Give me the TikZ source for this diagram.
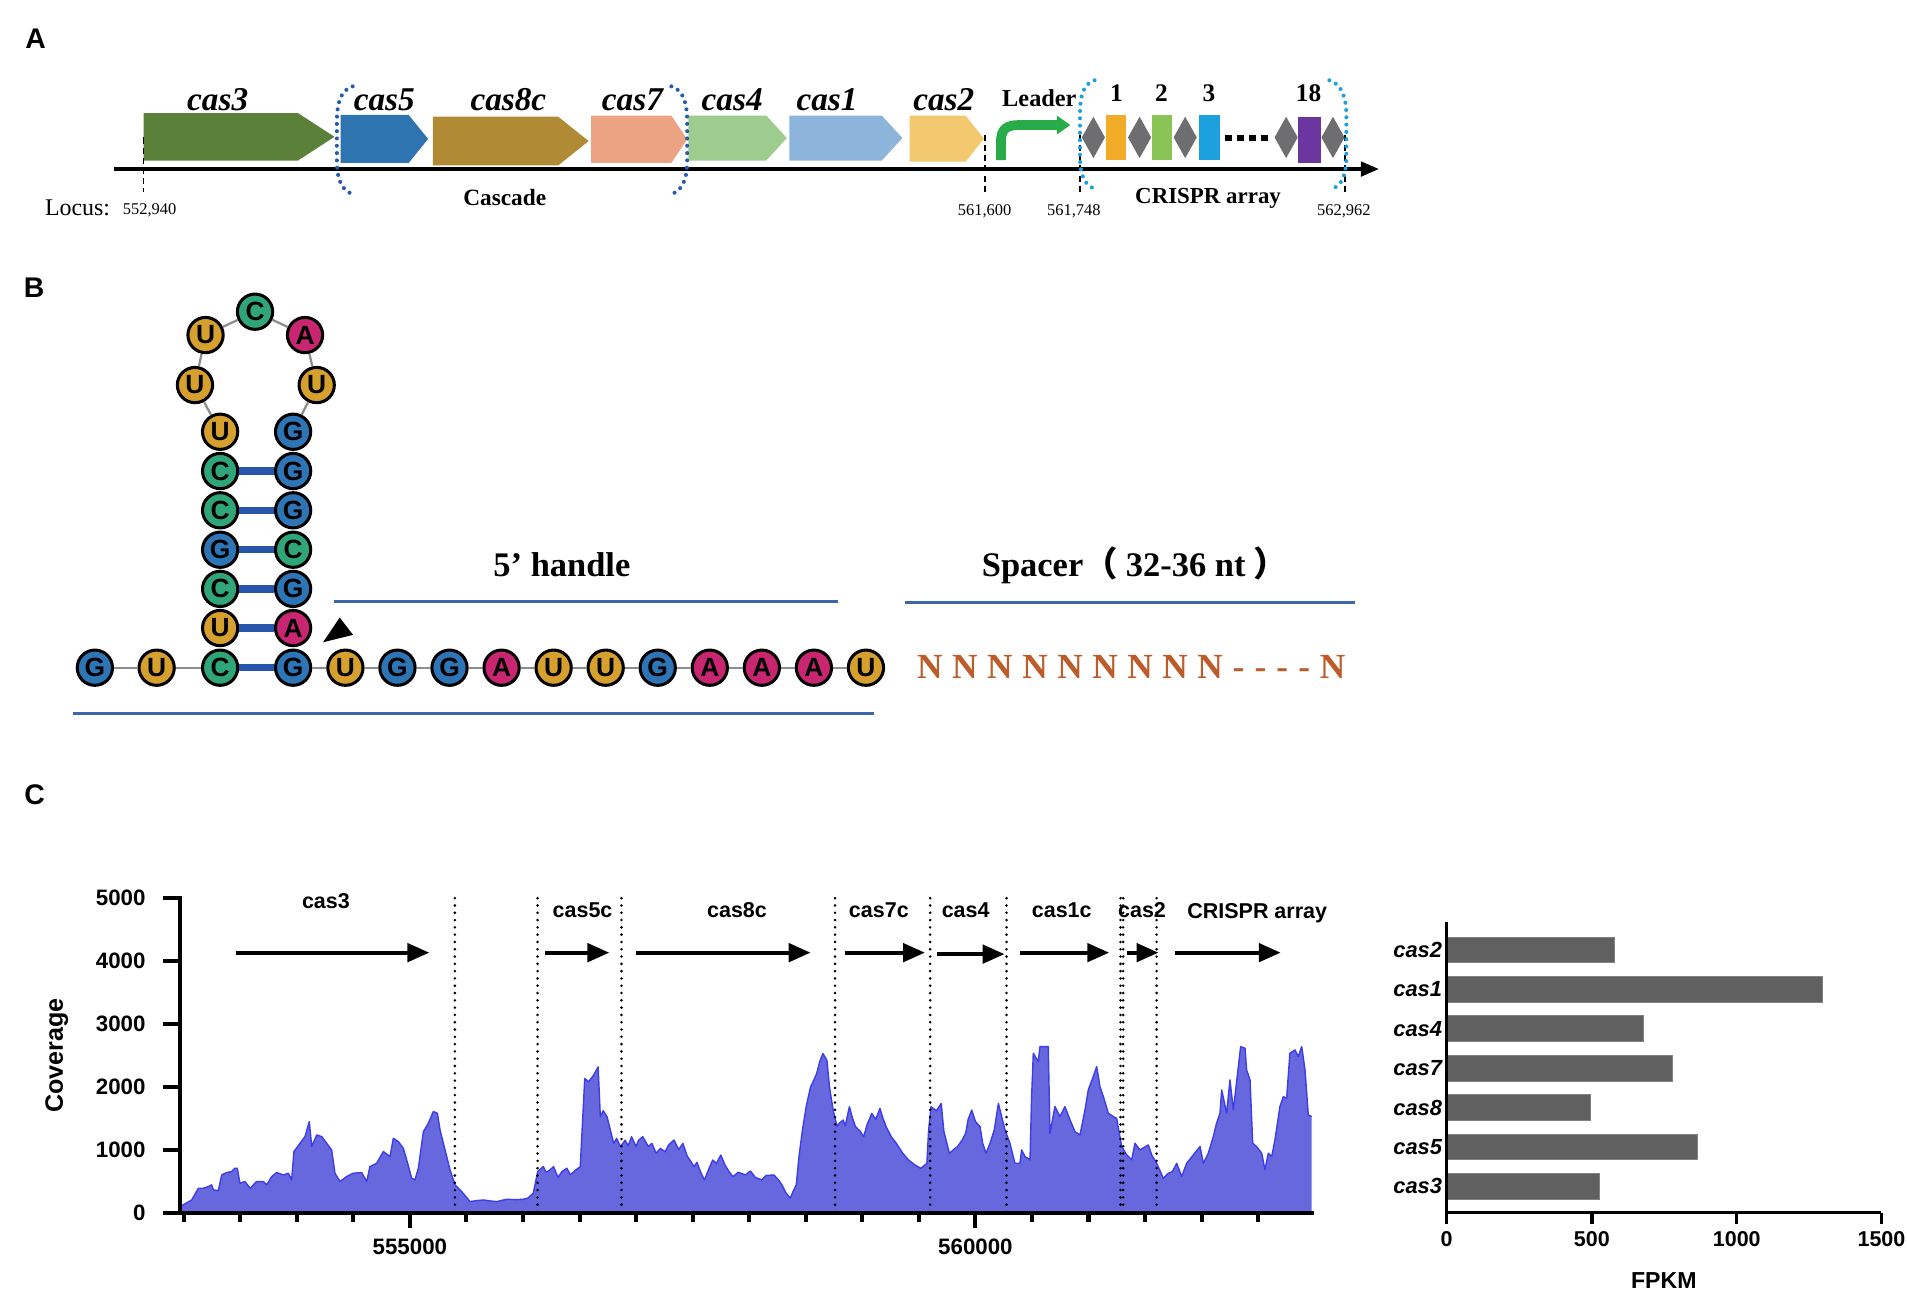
\documentclass[tikz,border=0pt]{standalone}
\usepackage{fontspec}
\setmainfont{Liberation Serif}
\setsansfont{Liberation Sans}
\newfontfamily\cjkfont{Noto Sans CJK SC}
\usetikzlibrary{arrows.meta}
\newcommand{\fsz}[1]{\fontsize{#1}{#1}\selectfont}
\definecolor{gcasthree}{RGB}{91,128,58}
\definecolor{gcasfive}{RGB}{46,116,176}
\definecolor{gcaseight}{RGB}{176,138,52}
\definecolor{gcasseven}{RGB}{236,163,132}
\definecolor{gcasfour}{RGB}{158,204,143}
\definecolor{gcasone}{RGB}{141,180,219}
\definecolor{gcastwo}{RGB}{243,201,112}
\definecolor{leaderg}{RGB}{40,172,74}
\definecolor{diamg}{RGB}{110,110,112}
\definecolor{spone}{RGB}{243,172,40}
\definecolor{sptwo}{RGB}{139,196,86}
\definecolor{spthree}{RGB}{28,160,222}
\definecolor{speighteen}{RGB}{108,54,160}
\definecolor{brackdark}{RGB}{40,92,170}
\definecolor{bracklight}{RGB}{30,160,220}
\definecolor{ntG}{RGB}{46,117,182}
\definecolor{ntU}{RGB}{214,160,46}
\definecolor{ntC}{RGB}{48,166,120}
\definecolor{ntA}{RGB}{200,38,112}
\definecolor{pairblue}{RGB}{40,86,170}
\definecolor{linecol}{RGB}{62,102,170}
\definecolor{ncol}{RGB}{188,92,42}
\definecolor{covfill}{RGB}{104,104,222}
\definecolor{covedge}{RGB}{62,62,232}
\definecolor{barfill}{RGB}{96,96,96}
\newcommand{\genearrow}[6]{\fill[#6] (#1,#4) -- (#2,#4) -- (#3,{(#4+#5)/2}) -- (#2,#5) -- (#1,#5) -- cycle;}
\newcommand{\diam}[1]{\fill[diamg] ({#1-9.5},113) -- (#1,96) -- ({#1+9.5},113) -- (#1,130) -- cycle;}
\newcommand{\nuc}[4]{\node[nuc, fill=nt#4] (#1) at (#2,#3) {#4};}
\newcommand{\Nb}{\makebox[17.28pt]{N}}
\newcommand{\Db}{\makebox[10.8pt]{-}}
\newcommand{\covpts}{(148,94) (157.6,200) (163.1,386) (167.2,386) (171.3,413) (174,440) (175.4,360) (179.5,350) (182.3,598) (186.4,636) (190.5,652) (193.2,705) (195.1,705) (197.3,466) (201.4,493) (205.6,386) (211,493) (216.5,493) (219.3,440) (223.4,572) (227.5,636) (233,598) (237.1,625) (239.8,519) (241.7,970) (246.7,1102) (250.8,1208) (254.3,1447) (256.3,1049) (260.4,1234) (264.5,1208) (268.6,1102) (272.7,996) (275.4,625) (279.6,493) (285,572) (290.5,625) (297.4,636) (301.5,493) (304.2,731) (309.7,784) (315.2,970) (320.7,890) (323.4,1181) (327.5,1128) (331.6,1022) (334.4,837) (338.5,546) (341.2,519) (344,705) (348.1,1287) (352.2,1420) (356.3,1606) (359.6,1579) (361.8,1314) (365.9,996) (370,678) (374.1,440) (379.6,334) (386.5,174) (392,190) (397.4,200) (403,185) (408.4,174) (416.6,211) (424,205) (430.3,211) (434,230) (438.5,307) (442.1,652) (446.7,731) (449,640) (452.2,678) (455.1,730) (458.8,560) (462,650) (466.1,704) (469,600) (473.4,677) (477.1,730) (480.8,2132) (484,2080) (488.1,2185) (491.8,2317) (493.6,1524) (496,1620) (499.1,1524) (502,1300) (504.6,1100) (507,1180) (510.1,1048) (514,1150) (516.5,1060) (519.3,1206) (523,1048) (525,1150) (528.5,1206) (533,1050) (536,1100) (539.5,942) (543,1020) (546.8,968) (550,1080) (554.2,1153) (558,1000) (561.5,1100) (565,900) (570.8,730) (573,800) (575.9,651) (579.2,519) (583,700) (586,836) (589,780) (592.7,915) (596,760) (599.4,651) (602.7,571) (607,640) (612.8,598) (617,660) (621,560) (626.2,519) (630,590) (636.3,598) (640,520) (643,439) (646,320) (649.7,228) (652,330) (654.7,439) (657,900) (659.8,1312) (663,1700) (666.5,2000) (669,2100) (671.5,2212) (674,2400) (676.6,2529) (679.9,2423) (682,2000) (685,1630) (688.3,1365) (690,1420) (693.3,1471) (695,1380) (698.4,1683) (701,1500) (703.4,1365) (707,1300) (710.1,1206) (713,1400) (716.8,1577) (720,1480) (723.5,1656) (726,1500) (728.6,1365) (733,1200) (737,1100) (742,950) (747,836) (752,760) (757.1,704) (762.1,783) (763.5,1300) (765.5,1683) (770,1620) (773.9,1735) (776,1300) (780.6,942) (784,1000) (787.3,1048) (791,1150) (794,1259) (796,1480) (799,1630) (802,1450) (805.8,1365) (808,1100) (810.8,942) (814,1100) (817.5,1312) (820.9,1735) (822.2,1632) (826.3,1314) (830.4,1102) (834.5,784) (838.6,784) (840,996) (842.8,890) (846.9,837) (848.2,1817) (849.6,2533) (853.7,2400) (855.1,2639) (861.9,2639) (863.3,1261) (867.4,1685) (871.5,1526) (875.6,1685) (879.8,1473) (883.9,1287) (888,1234) (892.1,1632) (894.8,1950) (898.9,2162) (901.7,2321) (904.4,2003) (907.2,1844) (911.3,1579) (915.4,1526) (918.1,1499) (922.3,1049) (926.4,917) (930.5,837) (933.2,1102) (937.3,996) (944.2,1075) (946.9,917) (951,784) (956.5,546) (960.6,625) (964,650) (967.5,784) (971.6,572) (975.7,784) (981.2,917) (986.7,1049) (989.4,784) (993.5,943) (997.6,1208) (1000,1400) (1003.1,1579) (1004.5,1950) (1008.6,1579) (1011.3,2109) (1014.1,1632) (1016.8,2083) (1020.1,2639) (1023.7,2612) (1025,2268) (1027.8,2109) (1030,1102) (1033.2,1049) (1037.4,943) (1040.1,678) (1042.8,943) (1045.6,890) (1048.3,1155) (1052.4,1685) (1055.2,1844) (1057.9,1817) (1060.6,2533) (1064.8,2586) (1067.5,2480) (1070.3,2639) (1073,2268) (1075.7,1553) (1078.5,1526)}
\begin{document}
\begin{tikzpicture}[x=0.6pt,y=-0.6pt,
  panellab/.style={font=\sffamily\bfseries\fsz{14pt}, inner sep=0},
  genelab/.style={font=\bfseries\itshape\fsz{16.4pt}, anchor=base, inner sep=0},
  serifbold/.style={font=\bfseries\fsz{12pt}, anchor=base, inner sep=0},
  locnum/.style={font=\fsz{8.1pt}, anchor=base, inner sep=0},
  locusline/.style={line width=0.9pt, dash pattern=on 3pt off 2pt},
  brackd/.style={brackdark, line width=2pt, dash pattern=on 0pt off 3.6pt, line cap=round},
  brackl/.style={bracklight, line width=2pt, dash pattern=on 0pt off 3.6pt, line cap=round},
  nuc/.style={circle, draw=black, line width=1.5pt, minimum size=17.4pt, inner sep=0, font=\sffamily\bfseries\fsz{13pt}},
  bbone/.style={draw={rgb,255:red,140;green,140;blue,140}, line width=1.1pt},
  pairbar/.style={draw=pairblue, line width=3.6pt},
  bline/.style={draw=linecol, line width=1.7pt},
  caxis/.style={line width=2pt, line cap=rect},
  cnum/.style={font=\sffamily\bfseries\fsz{11pt}, inner sep=0},
  cgene/.style={font=\sffamily\bfseries\fsz{10.6pt}, anchor=base, inner sep=0},
  cdot/.style={line width=1.4pt, dash pattern=on 0pt off 3.6pt, line cap=round},
  carrow/.style={line width=2pt, -{Triangle[length=10.8pt,width=9pt]}},
  barlab/.style={font=\sffamily\bfseries\itshape\fsz{10.8pt}, anchor=east, inner sep=0}
]
\useasboundingbox (0,0) rectangle (1568,1063);
\fill[white] (0,0) rectangle (1568,1063);

% ---------------- Panel A ----------------
\node[panellab] (labA) at (29.3,31.5) {A};
\genearrow{118}{245}{275}{93}{132}{gcasthree}
\genearrow{280}{336}{352}{94.5}{134}{gcasfive}
\genearrow{356}{459}{484}{96}{136}{gcaseight}
\genearrow{486}{552}{565}{95}{134}{gcasseven}
\genearrow{566}{630}{647}{95}{132}{gcasfour}
\genearrow{649}{725}{742}{95}{132}{gcasone}
\genearrow{748}{794}{809}{95}{133}{gcastwo}
\coordinate (axA0) at (94,139);
\coordinate (axA1) at (1134,139);
\draw[line width=2pt, -{Triangle[length=9pt,width=7pt]}] (axA0) -- (axA1);
\draw[locusline] (118,113) -- (118,158);
\draw[locusline] (810,111) -- (810,158);
\draw[locusline] (888,111) -- (888,158);
\draw[locusline] (1106,111) -- (1106,158);
% leader arrow
\draw[leaderg, line width=4.8pt] (823,131.6) -- (823,116) .. controls (823,106) and (828,102.8) .. (838,102.8) -- (870,102.8);
\fill[leaderg] (869,95) -- (880,102.8) -- (869,110.6) -- cycle;
% CRISPR array
\diam{899}
\fill[spone] (909,94.6) rectangle (926,131.6);
\diam{937}
\fill[sptwo] (947,94.6) rectangle (964,131.6);
\diam{974.5}
\fill[spthree] (986,94.6) rectangle (1003,131.6);
\draw[line width=3pt, dash pattern=on 3.4pt off 2.6pt] (1007,113.6) -- (1044,113.6);
\diam{1057.5}
\fill[speighteen] (1067,96) rectangle (1086,134);
\diam{1096}
% brackets
\draw[brackd] (290,71) .. controls (280,74) and (277,85) .. (277,100) -- (277,132) .. controls (277,148) and (281,157) .. (291,160);
\draw[brackd] (552,71) .. controls (562,74) and (565,85) .. (565,100) -- (565,132) .. controls (565,148) and (561,157) .. (551,160);
\draw[brackl] (900,66) .. controls (890,69) and (888,80) .. (888,95) -- (888,128) .. controls (888,145) and (892,153) .. (902,156);
\draw[brackl] (1093,66) .. controls (1103,69) and (1107,80) .. (1107,95) -- (1107,128) .. controls (1107,145) and (1103,153) .. (1094,156);
% labels
\node[genelab] (tcas3) at (179,91) {cas3};
\node[genelab] (tcas5) at (316,91) {cas5};
\node[genelab] (tcas8c) at (418,91) {cas8c};
\node[genelab] (tcas7) at (520,91) {cas7};
\node[genelab] (tcas4) at (602,90.5) {cas4};
\node[genelab] (tcas1) at (680,90.5) {cas1};
\node[genelab] (tcas2) at (776,90.5) {cas2};
\node[serifbold] (tleader) at (854.6,87.2) {Leader};
\node[serifbold, font=\bfseries\fsz{12.5pt}] (n1) at (918,83.6) {1};
\node[serifbold, font=\bfseries\fsz{12.5pt}] (n2) at (955,83.6) {2};
\node[serifbold, font=\bfseries\fsz{12.5pt}] (n3) at (994,83.6) {3};
\node[serifbold, font=\bfseries\fsz{12.5pt}] (n18) at (1076,83.6) {18};
\node[serifbold, font=\bfseries\fsz{11.5pt}] (tcascade) at (415,168.6) {Cascade};
\node[serifbold, font=\bfseries\fsz{11.3pt}] (tcrispr) at (993.3,167.2) {CRISPR array};
\node[anchor=base west, inner sep=0, font=\fsz{11.8pt}] (tlocus) at (36.7,176.8) {Locus:};
\node[locnum] (p1) at (123,176.4) {552,940};
\node[locnum] (p2) at (809.6,176.8) {561,600};
\node[locnum] (p3) at (883,176.8) {561,748};
\node[locnum] (p4) at (1105,176.8) {562,962};

% ---------------- Panel B ----------------
\node[panellab] (labB) at (28,237) {B};
\nuc{g1}{78}{549}{G}
\nuc{g2}{128.8}{549}{U}
\nuc{L1}{181}{549}{C}
\nuc{L2}{181}{516.4}{U}
\nuc{L3}{181}{484.2}{C}
\nuc{L4}{181}{452}{G}
\nuc{L5}{181}{419.6}{C}
\nuc{L6}{181}{387.3}{C}
\nuc{L7}{181}{355}{U}
\nuc{P1}{160.3}{316.6}{U}
\nuc{P2}{169}{275.5}{U}
\nuc{P3}{209.7}{256.3}{C}
\nuc{P4}{250.8}{275.5}{A}
\nuc{P5}{260.4}{316.6}{U}
\nuc{R7}{241}{355}{G}
\nuc{R6}{241}{387.3}{G}
\nuc{R5}{241}{419.6}{G}
\nuc{R4}{241}{452}{C}
\nuc{R3}{241}{484.2}{G}
\nuc{R2}{241}{516.4}{A}
\nuc{R1}{241}{549}{G}
\nuc{h1}{284}{549}{U}
\nuc{h2}{326.8}{549}{G}
\nuc{h3}{369.6}{549}{G}
\nuc{h4}{412.4}{549}{A}
\nuc{h5}{455.2}{549}{U}
\nuc{h6}{498}{549}{U}
\nuc{h7}{540.8}{549}{G}
\nuc{h8}{583.6}{549}{A}
\nuc{h9}{626.4}{549}{A}
\nuc{h10}{669.2}{549}{A}
\nuc{h11}{712}{549}{U}
\draw[bbone] (g1) -- (g2) -- (L1);
\draw[bbone] (L7) -- (P1) -- (P2) -- (P3) -- (P4) -- (P5) -- (R7);
\draw[bbone] (R1) -- (h1) -- (h2) -- (h3) -- (h4) -- (h5) -- (h6) -- (h7) -- (h8) -- (h9) -- (h10) -- (h11);
\foreach \i in {1,...,6} { \draw[pairbar] (L\i) -- (R\i); }
\fill (265.6,528.1) -- (279.3,507.8) -- (290.3,522) -- cycle;
\node[anchor=base, inner sep=0, font=\bfseries\fsz{17pt}] (thandle) at (462,474) {5' handle};
\node[anchor=base west, inner sep=0, font=\bfseries\fsz{17pt}] (tspacer) at (807,474) {Spacer{\cjkfont （}\hspace{4pt}32-36 nt\hspace{4pt}{\cjkfont ）}};
\coordinate (hl0) at (275,494.5); \coordinate (hl1) at (688.8,494.5);
\coordinate (sl0) at (744,495.5); \coordinate (sl1) at (1114,495.5);
\coordinate (bl0) at (60.3,586.5); \coordinate (bl1) at (718.7,586.5);
\draw[bline] (hl0) -- (hl1);
\draw[bline] (sl0) -- (sl1);
\draw[bline] (bl0) -- (bl1);
\node[anchor=base west, inner sep=0, text=ncol, font=\bfseries\fsz{17.4pt}] (spseq) at (749.9,557.7) {\Nb\Nb\Nb\Nb\Nb\Nb\Nb\Nb\Nb\Db\Db\Db\Db\Nb};

% ---------------- Panel C ----------------
\node[panellab] (labC) at (28.4,653.7) {C};
\begin{scope}[x=0.6pt, y=0.03102pt, shift={(0pt,-598.2pt)}]
\fill[covfill] (148,0) -- plot coordinates {\covpts} -- (1078.5,0) -- cycle;
\draw[covedge, line width=0.7pt, line join=round] plot coordinates {\covpts};
\end{scope}
% dotted separators
\foreach \xx in {374,442,511,686.6,764.8,827.6,923.5,951} { \draw[cdot] (\xx,738.5) -- (\xx,997); }
\draw[cdot] (921.3,738.5) -- (921.3,997);
% axes
\coordinate (cy0) at (148,997); \coordinate (cy1) at (148,738.5); \coordinate (cx1) at (1078.6,997);
\draw[caxis] (cy1) -- (cy0) -- (cx1);
\foreach \v/\lab in {0/0,1/1000,2/2000,3/3000,4/4000,5/5000} {
  \draw[caxis] (136,{997-51.7*\v}) -- (148,{997-51.7*\v});
  \node[cnum, anchor=east] at (120,{997-51.7*\v}) {\lab};
}
\foreach \k in {0,...,19} { \draw[line width=2pt] ({151+46.5*\k},997) -- ({151+46.5*\k},1004.5); }
\draw[line width=2pt] (337,997) -- (337,1010);
\draw[line width=2pt] (802,997) -- (802,1010);
\node[cnum] (t555) at (337,1025) {555000};
\node[cnum] (t560) at (802,1025) {560000};
\node[cnum, font=\sffamily\bfseries\fsz{12.4pt}, rotate=90] (tcov) at (46.7,868) {Coverage};
% gene labels and arrows
\node[cgene] (c3) at (268,747) {cas3};
\node[cgene] (c5) at (479,754) {cas5c};
\node[cgene] (c8) at (606,754) {cas8c};
\node[cgene] (c7) at (722.6,754) {cas7c};
\node[cgene] (c4) at (794,754) {cas4};
\node[cgene] (c1) at (873,754) {cas1c};
\node[cgene] (c2) at (939,754) {cas2};
\node[cgene] (cc) at (1033.7,755) {CRISPR array};
\draw[carrow] (193.8,783.3) -- (353,783.3);
\draw[carrow] (448.5,783.3) -- (501,783.3);
\draw[carrow] (523,783.3) -- (666.5,783.3);
\draw[carrow] (695,783.3) -- (760.5,783.3);
\draw[carrow] (770.5,784.5) -- (826,784.5);
\draw[carrow] (839,783.3) -- (912,783.3);
\draw[carrow] (926.6,783.3) -- (952.5,783.3);
\draw[carrow] (966,783.3) -- (1053,783.3);

% ---------------- bar chart ----------------
\foreach \i/\r in {0/1327.8,1/1498.8,2/1351.6,3/1375.4,4/1307.9,5/1395.6,6/1315} {
  \fill[barfill, draw={rgb,255:red,130;green,130;blue,130}, line width=0.4pt] (1189.5,{781.1+32.37*\i-10.6}) rectangle (\r,{781.1+32.37*\i+10.6});
}
\node[barlab] (bl2) at (1186,781.1) {cas2};
\node[barlab] (bl1) at (1186,813.5) {cas1};
\node[barlab] (bl4) at (1186,845.8) {cas4};
\node[barlab] (bl7) at (1186,878.2) {cas7};
\node[barlab] (bl8) at (1186,910.6) {cas8};
\node[barlab] (bl5) at (1186,942.9) {cas5};
\node[barlab] (bl3) at (1186,975.3) {cas3};
\coordinate (by1) at (1189.5,757.8); \coordinate (by0) at (1189.5,997); \coordinate (bx1) at (1547,997);
\draw[line width=1.7pt] (by1) -- (by0) -- (bx1);
\foreach \xx/\lab in {1189.5/0,1308.8/500,1428/1000,1547/1500} {
  \draw[line width=1.7pt] (\xx,997) -- (\xx,1006);
  \node[cnum, font=\sffamily\bfseries\fsz{10.6pt}] at (\xx,1018.5) {\lab};
}
\node[cnum, font=\sffamily\bfseries\fsz{11.4pt}] (tfpkm) at (1368,1052.5) {FPKM};
\end{tikzpicture}
\end{document}
